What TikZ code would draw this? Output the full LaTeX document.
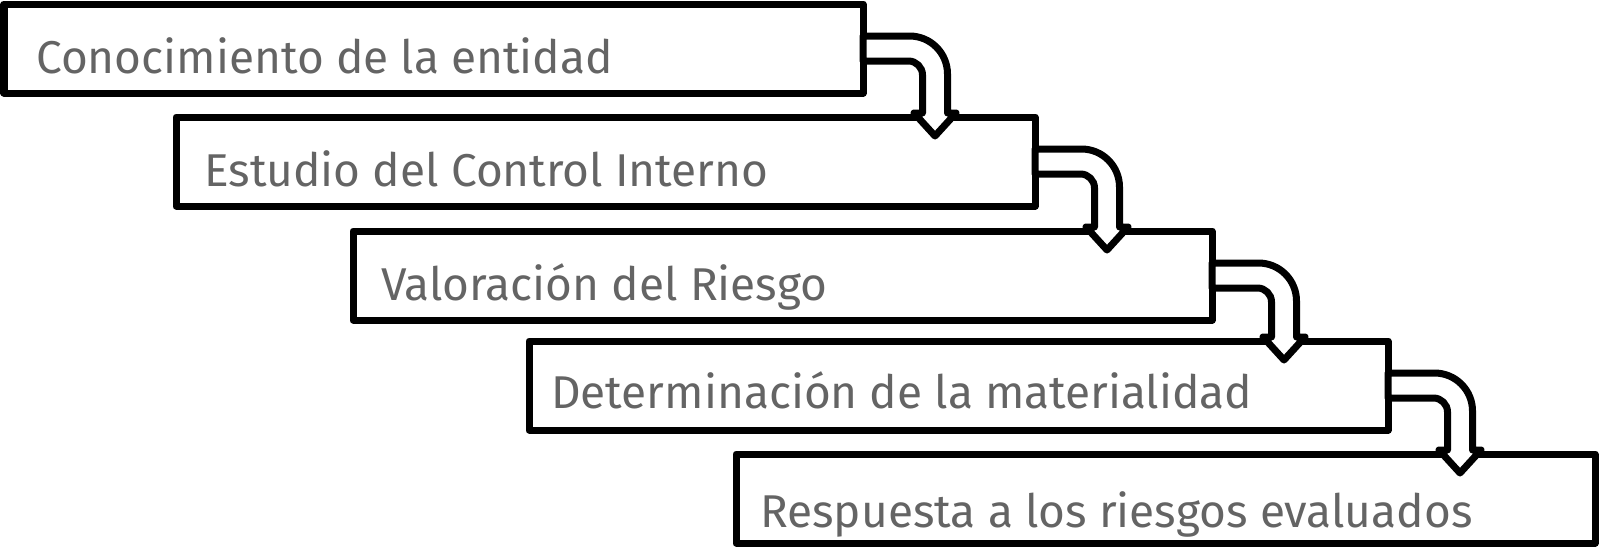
\documentclass[tikz,border=0pt]{standalone}
\usepackage{fontspec}
\setmainfont{Fira Sans}
\usetikzlibrary{calc}
\definecolor{mytextgray}{RGB}{100,100,100}
\newcommand{\widthbox}{859pt}
\newcommand{\heightbox}{89pt}
\newcommand{\shafthalf}{12.5pt}
\tikzset{
    common/.style={draw, line width=7pt, line join=round},
    box/.style={common, rectangle, anchor=north west, inner sep=0pt, outer sep=0pt,
        minimum width=\widthbox, minimum height=\heightbox},
    phase/.style={anchor=base west, inner sep=0pt, text=mytextgray,
        font=\fontsize{46}{54}\selectfont},
    flow/.style={common, fill=white}
}
% bent arrow from the right side of #1 down onto the top of #2
\newcommand{\bentarrow}[2]{
    \path[flow] let \p1=(#1.east), \p2=(#2.north), \n1={\x1+72pt}, \n2={\y2+4pt} in
        (\x1, \y1+\shafthalf) -- (\n1+\shafthalf-38pt, \y1+\shafthalf)
        arc[start angle=90, end angle=0, radius=38pt]
        -- (\n1+\shafthalf, \n2) -- (\n1+21pt, \n2) -- (\n1, \n2-23pt)
        -- (\n1-21pt, \n2) -- (\n1-\shafthalf, \n2) -- (\n1-\shafthalf, \y1-\shafthalf-14pt)
        arc[start angle=0, end angle=90, radius=14pt]
        -- (\x1, \y1-\shafthalf) -- cycle;
}

\begin{document}
\begin{tikzpicture}[x=1pt, y=1pt]
    \useasboundingbox (0,0) rectangle (1600,-549);

    \node[box] (knowledge) at (4,-4) {};
    \node[box] (control) at (176,-117) {};
    \node[box] (risk) at (353,-231) {};
    \node[box] (materiality) at (529,-341) {};
    \node[box] (response) at (736,-454) {};

    \node[phase] (knowledgetext) at ([shift={(32,-69)}]knowledge.north west) {Conocimiento de la entidad};
    \node[phase] (controltext) at ([shift={(28,-69)}]control.north west) {Estudio del Control Interno};
    \node[phase] (risktext) at ([shift={(28,-69)}]risk.north west) {Valoración del Riesgo};
    \node[phase] (materialitytext) at ([shift={(22,-67)}]materiality.north west) {Determinación de la materialidad};
    \node[phase] (responsetext) at ([shift={(24,-73)}]response.north west) {Respuesta a los riesgos evaluados};

    \bentarrow{knowledge}{control}
    \bentarrow{control}{risk}
    \bentarrow{risk}{materiality}
    \bentarrow{materiality}{response}
\end{tikzpicture}
\end{document}
